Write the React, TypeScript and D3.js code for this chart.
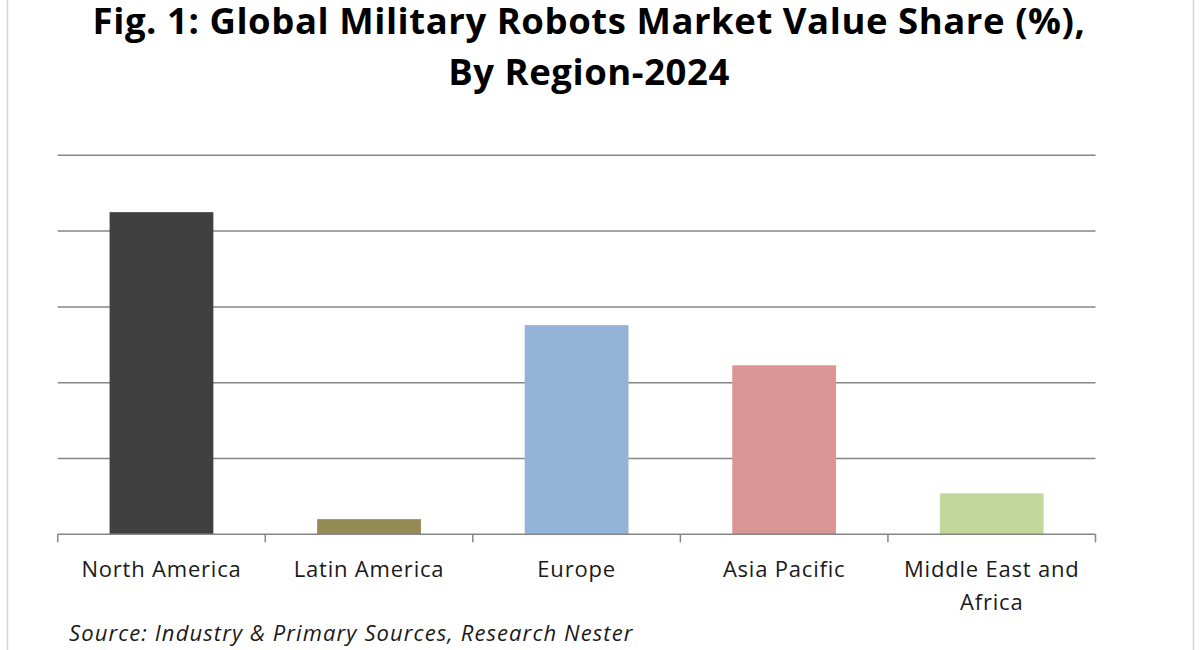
import React from "react";
import * as d3 from "d3";

const categories: string[][] = [
  ["North America"],
  ["Latin America"],
  ["Europe"],
  ["Asia Pacific"],
  ["Middle East and", "Africa"],
];
const values: number[] = [42.5, 2.0, 27.6, 22.3, 5.4];
const colors: string[] = ["#404040", "#948a54", "#95b3d7", "#d99694", "#c3d69b"];
const gridTicks: number[] = [0, 10, 20, 30, 40, 50];
const titleLines: string[] = [
  "Fig. 1: Global Military Robots Market Value Share (%),",
  "By Region-2024",
];
const sourceText = "Source: Industry & Primary Sources, Research Nester";

const W = 1200;
const H = 650;
const left = 57.7;
const right = 1095.5;
const top = 155.3;
const bottom = 534.3;
const font = "'Open Sans', Lato, sans-serif";

export default function App() {
  const idx = categories.map((_, i) => i);
  const x = d3.scaleBand<number>().domain(idx).range([left, right]).paddingInner(0.5).paddingOuter(0.25);
  const y = d3.scaleLinear().domain([0, 50]).range([bottom, top]);
  const step = (right - left) / categories.length;
  const tickXs = d3.range(categories.length + 1).map((i) => left + i * step);

  return (
    <div style={{ position: "absolute", left: 0, top: 0, width: W, height: H, background: "#fff" }}>
      <svg width={W} height={H} style={{ display: "block" }}>
        <rect x={0} y={0} width={W} height={H} fill="#fff" />
        <line x1={7.5} x2={7.5} y1={0} y2={H} stroke="#d4d4d4" strokeWidth={1.5} />
        <line x1={1193.5} x2={1193.5} y1={0} y2={H} stroke="#d4d4d4" strokeWidth={1.5} />
        {titleLines.map((t, i) => (
          <text
            key={i}
            x={589}
            y={34 + i * 51}
            textAnchor="middle"
            fontFamily={font}
            fontWeight={700}
            fontSize={36.5}
            letterSpacing={0.55}
            fill="#000"
          >
            {t}
          </text>
        ))}
        {gridTicks.filter((v) => v > 0).map((v) => (
          <line key={v} x1={left} x2={right} y1={y(v)} y2={y(v)} stroke="#868686" strokeWidth={1.5} />
        ))}
        {values.map((v, i) => (
          <rect
            key={i}
            x={x(i)}
            y={y(v)}
            width={x.bandwidth()}
            height={y(0) - y(v)}
            fill={colors[i]}
          />
        ))}
        <line x1={left} x2={right} y1={y(0)} y2={y(0)} stroke="#868686" strokeWidth={1.5} />
        {tickXs.map((tx, i) => (
          <line key={i} x1={tx} x2={tx} y1={y(0)} y2={y(0) + 8} stroke="#868686" strokeWidth={1.5} />
        ))}
        {categories.map((lines, i) => (
          <text
            key={i}
            x={(x(i) as number) + x.bandwidth() / 2}
            y={577}
            textAnchor="middle"
            fontFamily={font}
            fontSize={22}
            letterSpacing={0.8}
            fill="#1a1a1a"
          >
            {lines.map((l, j) => (
              <tspan key={j} x={(x(i) as number) + x.bandwidth() / 2} dy={j === 0 ? 0 : 33}>
                {l}
              </tspan>
            ))}
          </text>
        ))}
        <text x={69} y={641} fontFamily={font} fontStyle="italic" fontSize={22} letterSpacing={1.1} fill="#1a1a1a">
          {sourceText}
        </text>
      </svg>
    </div>
  );
}
